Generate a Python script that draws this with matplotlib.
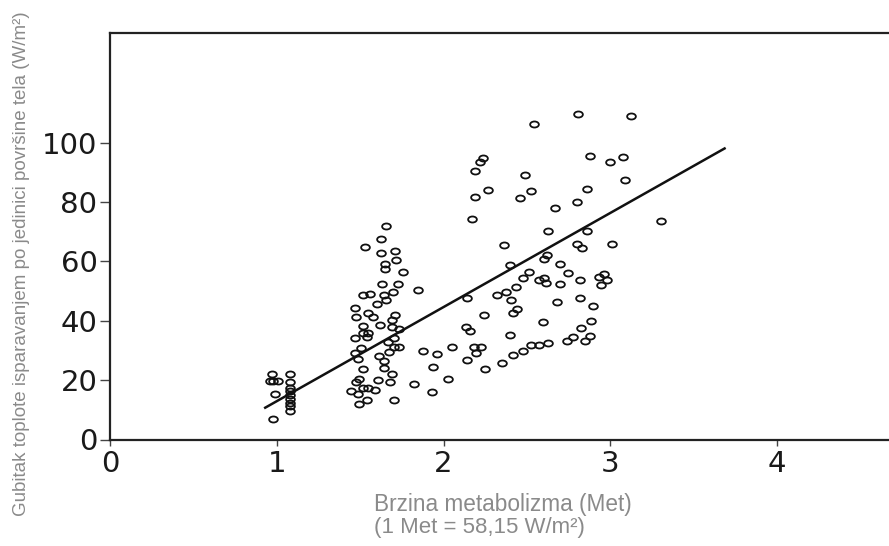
import matplotlib
matplotlib.use("Agg")
import matplotlib.pyplot as plt
from matplotlib.path import Path
from matplotlib.transforms import Affine2D

# ---- data ----
met_x = [0.97, 0.96, 0.98, 1.01, 0.99, 0.98,
         1.08, 1.08, 1.08, 1.08, 1.08, 1.08, 1.08, 1.08, 1.08,
         1.528, 1.654, 1.623, 1.626, 1.711, 1.647, 1.715, 1.647, 1.756, 1.630,
         1.728, 1.844, 1.518, 1.559, 1.640, 1.694, 1.654, 1.599, 1.467, 1.545,
         1.477, 1.579, 1.708, 1.688, 1.688, 1.518, 1.620, 1.732, 1.518, 1.545,
         1.467, 1.542, 1.705, 1.664, 1.504, 1.701, 1.732, 1.467, 1.671, 1.613,
         1.487, 1.640, 1.518, 1.640, 1.688, 1.491, 1.606, 1.477, 1.681, 1.443,
         1.518, 1.545, 1.589, 1.487, 1.491, 1.538, 1.705, 1.823,
         1.878, 1.959, 2.051, 1.939, 1.929, 2.027, 2.143, 2.132, 2.156, 2.143,
         2.183, 2.197, 2.224, 2.251, 2.245, 2.173, 2.190, 2.187, 2.217, 2.238,
         2.268, 2.360, 2.397, 2.319, 2.377, 2.407, 2.435, 2.418, 2.441, 2.401,
         2.350, 2.414, 2.475, 2.475, 2.509, 2.489, 2.458, 2.526, 2.543, 2.523,
         2.574, 2.570, 2.601, 2.615, 2.601, 2.618, 2.628, 2.666, 2.594, 2.625,
         2.679, 2.696, 2.699, 2.747, 2.740, 2.774, 2.801, 2.808, 2.801, 2.832,
         2.818, 2.818, 2.825, 2.849, 2.859, 2.862, 2.876, 2.876, 2.886, 2.893,
         2.934, 2.944, 2.964, 2.981, 2.998, 3.009, 3.076, 3.087, 3.124, 3.301]
loss_y = [21.9, 19.6, 19.6, 19.6, 15.2, 7.0,
          21.9, 19.3, 17.5, 16.2, 15.0, 13.5, 12.3, 11.3, 9.7,
          64.9, 71.9, 67.5, 62.8, 63.5, 59.1, 60.5, 57.3, 56.4, 52.3,
          52.3, 50.3, 48.8, 49.1, 48.8, 49.7, 47.1, 45.5, 44.4, 42.7,
          41.3, 41.4, 41.9, 40.4, 38.0, 38.2, 38.4, 37.3, 35.9, 35.7,
          34.2, 34.5, 34.3, 32.7, 30.8, 31.0, 31.3, 29.2, 29.6, 28.1,
          27.1, 26.3, 23.6, 24.2, 22.2, 20.5, 20.2, 19.5, 19.3, 16.3,
          17.4, 17.4, 16.7, 15.2, 12.0, 13.2, 13.2, 18.8,
          29.8, 28.9, 31.3, 24.4, 16.0, 20.5, 47.7, 38.0, 36.6, 26.7,
          31.0, 29.2, 31.2, 23.6, 41.9, 74.3, 81.5, 90.3, 93.3, 94.7,
          84.0, 65.5, 58.8, 48.5, 49.7, 47.1, 51.5, 42.7, 44.1, 35.2,
          25.8, 28.3, 29.9, 54.4, 56.4, 88.9, 81.3, 83.7, 106.3, 31.8,
          31.9, 53.8, 54.4, 52.6, 60.8, 62.2, 70.2, 78.0, 39.5, 32.5,
          46.4, 59.1, 52.4, 55.9, 33.1, 34.5, 79.9, 109.7, 65.7, 64.6,
          53.8, 47.7, 37.4, 33.1, 70.2, 84.2, 95.3, 34.7, 39.8, 44.8,
          54.7, 52.0, 55.8, 53.8, 93.3, 65.8, 95.0, 87.5, 109.0, 73.7]

fit_x = [0.924, 3.691]
fit_y = [10.5, 98.2]

x_ticks = [0, 1, 2, 3, 4]
y_ticks = [0, 20, 40, 60, 80, 100]

y_label = "Gubitak toplote isparavanjem po jedinici površine tela (W/m²)"
x_label_1 = "Brzina metabolizma (Met)"
x_label_2 = "(1 Met = 58,15 W/m²)"

# ---- figure ----
W, H = 889, 546
fig = plt.figure(figsize=(W / 100, H / 100), dpi=100)
left_px, bottom_px, top_px = 110, 439.5, 33
ax_w_units = 5.0
px_per_unit = 166.8
ax = fig.add_axes([left_px / W, (H - bottom_px) / H,
                   ax_w_units * px_per_unit / W, (bottom_px - top_px) / H])
ax.set_xlim(0, ax_w_units)
ax.set_ylim(0, (bottom_px - top_px) / 2.97)

ellipse = Path.unit_circle().transformed(Affine2D().scale(1.45, 1.0))
ax.plot(met_x, loss_y, linestyle="none", marker=ellipse, ms=6.3,
        mfc="none", mec="#111111", mew=1.3)
ax.plot(fit_x, fit_y, color="#111111", lw=1.8, solid_capstyle="butt")

for s in ax.spines.values():
    s.set_linewidth(1.6)
    s.set_color("#222222")
ax.spines["right"].set_visible(False)

ax.set_xticks(x_ticks)
ax.set_yticks(y_ticks)
ax.tick_params(axis="y", direction="out", length=7, width=1.0, pad=2,
               labelsize=21, labelcolor="#1a1a1a", color="#444444")
ax.tick_params(axis="x", direction="out", length=4.5, width=1.0, pad=3,
               labelsize=21, labelcolor="#1a1a1a", color="#444444")
for lab in ax.get_xticklabels() + ax.get_yticklabels():
    lab.set_family("DejaVu Sans")

grey = "#8a8a8a"
yl = fig.text(22 / W, 1 - 264 / H, y_label, rotation=90, ha="center",
              va="center", color=grey, family=["Liberation Sans", "DejaVu Sans"],
              fontsize=12)
t1 = fig.text(374 / W, 1 - 505 / H, x_label_1, ha="left", va="center",
              color=grey, family=["Liberation Sans", "DejaVu Sans"], fontsize=14)
t2 = fig.text(374 / W, 1 - 528 / H, x_label_2, ha="left", va="center",
              color=grey, family=["Liberation Sans", "DejaVu Sans"], fontsize=14)

# fit text lengths to the reference
r = fig.canvas.get_renderer()
for t, target, horiz in [(yl, 507, False), (t1, 260, True), (t2, 212, True)]:
    bb = t.get_window_extent(r)
    cur = bb.width if horiz else bb.height
    t.set_fontsize(t.get_fontsize() * target / cur)

fig.savefig("out.png", dpi=100)
